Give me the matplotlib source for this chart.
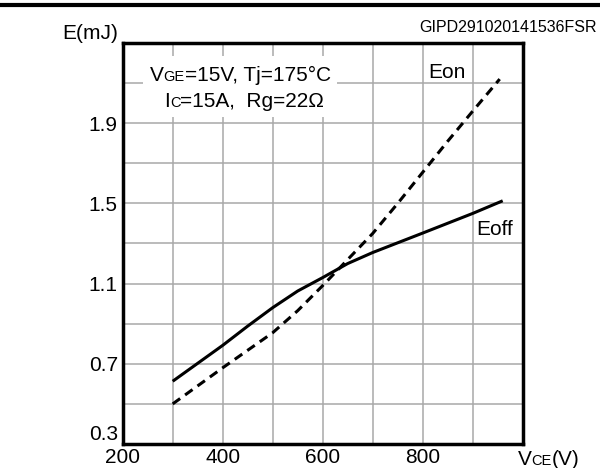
import matplotlib
matplotlib.use('Agg')
import matplotlib.pyplot as plt
from matplotlib.transforms import IdentityTransform
from matplotlib.lines import Line2D
from matplotlib.patches import Rectangle

plt.rcParams['font.family'] = ['Liberation Sans', 'DejaVu Sans']

# ---- data ----
vce_off = [300, 400, 450, 500, 550, 600, 650, 700, 800, 900, 960]
eoff = [0.613, 0.792, 0.888, 0.98, 1.063, 1.13, 1.20, 1.255, 1.352, 1.45, 1.513]
vce_on = [300, 400, 500, 550, 600, 650, 700, 750, 800, 850, 900, 954]
eon = [0.50, 0.68, 0.855, 0.965, 1.09, 1.22, 1.35, 1.50, 1.655, 1.81, 1.96, 2.12]

x_ticks = [200, 300, 400, 500, 600, 700, 800, 900, 1000]
x_labels = ['200', '', '400', '', '600', '', '800', '', '']
y_ticks = [0.3, 0.5, 0.7, 0.9, 1.1, 1.3, 1.5, 1.7, 1.9, 2.1, 2.3]
y_labels = ['0.3', '', '0.7', '', '1.1', '', '1.5', '', '1.9', '', 'E(mJ)']

W, H = 600, 468
fig = plt.figure(figsize=(W / 100, H / 100), dpi=100)
L, R, T, B = 122.7, 522.7, 43, 444
ax = fig.add_axes([L / W, 1 - B / H, (R - L) / W, (B - T) / H])
ax.set_xlim(200, 1000)
ax.set_ylim(0.3, 2.3)

ax.set_xticks(x_ticks)
ax.set_xticklabels(x_labels)
ax.set_yticks(y_ticks)
ax.set_yticklabels(y_labels)
ax.tick_params(length=0, labelsize=15, colors='black')
ax.tick_params(axis='x', pad=3)
ax.tick_params(axis='y', pad=3.5)
ylabs = ax.get_yticklabels()
ylabs[0].set_verticalalignment('bottom')
ylabs[-1].set_verticalalignment('bottom')
ax.grid(True, color='#a8a8a8', linewidth=1.1)
ax.set_axisbelow(True)
for s in ax.spines.values():
    s.set_linewidth(2.5)
    s.set_color('black')
    s.set_zorder(5)

ax.plot(vce_off, eoff, color='black', lw=2.2, solid_capstyle='butt', zorder=3)
ax.plot(vce_on, eon, color='black', lw=2.2, linestyle=(0, (3, 2)), zorder=3)

ax.text(811, 2.155, 'Eon', fontsize=15, ha='left', va='center')
ax.text(908, 1.37, 'Eoff', fontsize=15, ha='left', va='center')

# white box behind conditions text
ax.add_patch(Rectangle((240.6, 1.93), 388, 0.305, facecolor='white',
                       edgecolor='none', zorder=2))

renderer = fig.canvas.get_renderer()


def composite(x, y, pieces, ha='center', transform=None):
    texts, widths = [], []
    for s, size in pieces:
        t = fig.text(0, 0, s, fontsize=size, ha='left', va='baseline',
                     transform=IdentityTransform(), zorder=6)
        w = t.get_window_extent(renderer=renderer).width
        texts.append(t)
        widths.append(w)
    total = sum(widths)
    X, Y = (transform or ax.transData).transform((x, y))
    if ha == 'center':
        X -= total / 2
    for t, w in zip(texts, widths):
        t.set_position((X, Y))
        X += w


composite(435, 2.11, [('V', 15), ('GE', 10.5), ('=15V, Tj=175°C', 15)])
composite(443, 1.98, [('I', 15), ('C', 10.5), ('=15A,  Rg=22Ω', 15)])
# x-axis name at the 1000 V position
composite(990, 0.3 - 0.105, [('V', 15), ('CE', 10.5), ('(V)', 15)], ha='left')

fig.text(597 / W, 1 - 27 / H, 'GIPD291020141536FSR', fontsize=11.5,
         ha='right', va='center')

# page rule at the top of the crop
fig.add_artist(Line2D([0, 1], [1 - 4.5 / H, 1 - 4.5 / H], color='black',
                      lw=3, transform=fig.transFigure))

fig.savefig('out.png', dpi=100)
